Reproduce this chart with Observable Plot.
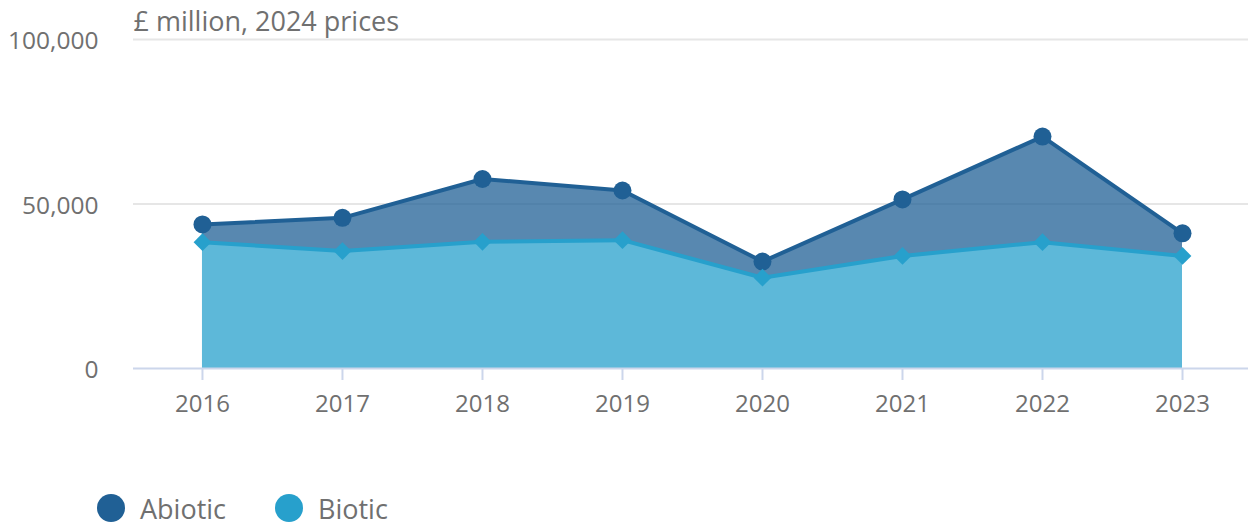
<!DOCTYPE html>
<html>
<head>
<meta charset="utf-8">
<script src="https://cdn.jsdelivr.net/npm/d3@7"></script>
<script src="https://cdn.jsdelivr.net/npm/@observablehq/plot@0.6"></script>
<style>
  html, body { margin: 0; padding: 0; background: #fff; }
  body { font-family: "Open Sans", sans-serif; }
  #wrap { position: relative; width: 1248px; height: 524px; }
  #chart svg { display: block; }
  #legend { position: absolute; left: 0; top: 470px; width: 1248px; height: 54px; }
  .sw { position: absolute; width: 28px; height: 28px; border-radius: 50%; top: 24px; }
  .lb { position: absolute; top: 25px; font-size: 27px; line-height: 28px; color: #707070; white-space: nowrap; }
</style>
</head>
<body>
<div id="wrap">
  <div id="chart"></div>
  <div id="legend"></div>
</div>
<script>
// ---- Data ----
const years = ["2016", "2017", "2018", "2019", "2020", "2021", "2022", "2023"];
const biotic = [38400, 35700, 38500, 39000, 27600, 34200, 38400, 34200];
const abiotic = [5400, 10100, 19100, 15100, 4900, 17200, 32100, 6900];
const yTicks = [0, 50000, 100000];
const seriesNames = ["Abiotic", "Biotic"];
const seriesColors = ["#206095", "#27a0cc"];
const titleText = "£ million, 2024 prices";

// stacked table: biotic at the bottom, abiotic on top
const rows = years.map((year, i) => ({
  year,
  biotic: biotic[i],
  total: biotic[i] + abiotic[i]
}));

const textGrey = "#707070";

const chart = Plot.plot({
  width: 1248,
  height: 470,
  marginLeft: 133,
  marginRight: 0,
  marginTop: 39,
  marginBottom: 102,
  style: { fontFamily: "'Open Sans', sans-serif", fontSize: "24px", background: "#fff" },
  x: { type: "point", domain: years, padding: 0.482, align: 0.511, round: false },
  y: { domain: [0, 100000] },
  marks: [
    Plot.gridY(yTicks.filter(d => d > 0), { stroke: "#e6e6e6", strokeOpacity: 1, strokeWidth: 2 }),
    Plot.areaY(rows, { x: "year", y1: 0, y2: "biotic", fill: seriesColors[1], fillOpacity: 0.75 }),
    Plot.areaY(rows, { x: "year", y1: "biotic", y2: "total", fill: seriesColors[0], fillOpacity: 0.75 }),
    Plot.ruleY([0], { stroke: "#ccd6eb", strokeWidth: 2 }),
    Plot.axisX({ tickSize: 12, tickFormat: () => "", label: null, stroke: "#ccd6eb", strokeOpacity: 1, strokeWidth: 2 }),
    Plot.axisX({ tickSize: 0, tickPadding: 26, label: null, fill: textGrey, fontSize: 24 }),
    Plot.axisY({ ticks: yTicks, tickSize: 0, tickPadding: 35, label: null, tickFormat: d3.format(","), fill: textGrey, fontSize: 24.5, dy: 2 }),
    Plot.text([titleText], { frameAnchor: "top-left", lineAnchor: "middle", dy: -17, textAnchor: "start", fill: textGrey, fontSize: 27 }),
    Plot.lineY(rows, { x: "year", y: "total", stroke: seriesColors[0], strokeWidth: 4 }),
    Plot.dot(rows, { x: "year", y: "total", r: 9, fill: seriesColors[0] }),
    Plot.lineY(rows, { x: "year", y: "biotic", stroke: seriesColors[1], strokeWidth: 4 }),
    Plot.dot(rows, { x: "year", y: "biotic", symbol: "diamond2", r: 8, fill: seriesColors[1] })
  ]
});
document.getElementById("chart").appendChild(chart);

// ---- Legend ----
const legend = document.getElementById("legend");
const legendX = [97, 275];
seriesNames.forEach((name, i) => {
  const sw = document.createElement("span");
  sw.className = "sw";
  sw.style.left = legendX[i] + "px";
  sw.style.background = seriesColors[i];
  legend.appendChild(sw);
  const lb = document.createElement("span");
  lb.className = "lb";
  lb.style.left = (legendX[i] + 43) + "px";
  lb.textContent = name;
  legend.appendChild(lb);
});
</script>
</body>
</html>
